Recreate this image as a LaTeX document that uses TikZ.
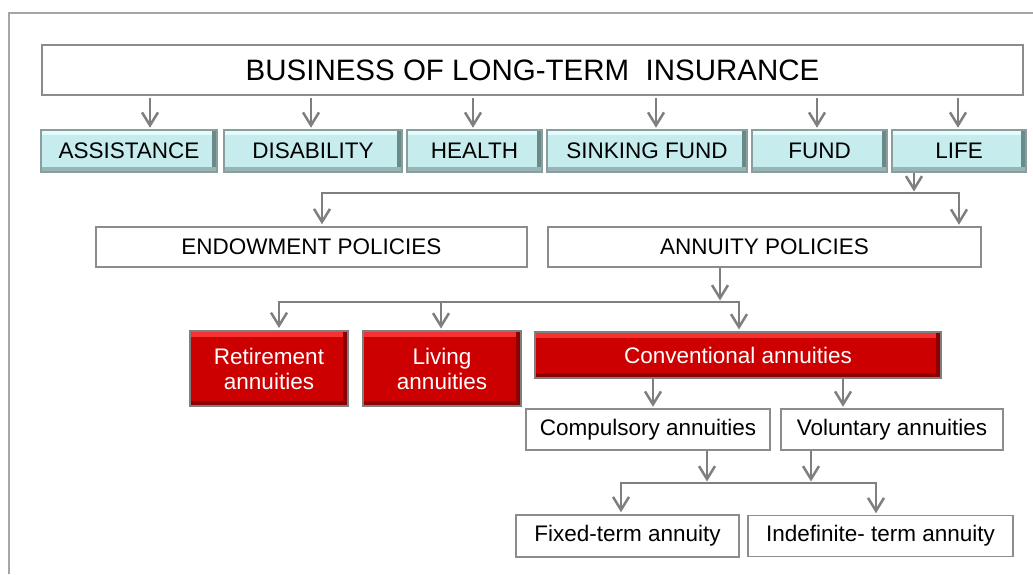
\documentclass[tikz,border=0pt]{standalone}
\usepackage{fontspec}
\setmainfont{Liberation Sans}
\usetikzlibrary{arrows.meta}
\definecolor{linegray}{HTML}{7F7F7F}
\definecolor{boxgray}{HTML}{8C8C8C}
\definecolor{framegray}{HTML}{A6A6A6}
\definecolor{tealfill}{HTML}{C6ECEE}
\definecolor{tealhi}{HTML}{E2FCFD}
\definecolor{tealdk}{HTML}{6A8A8A}
\definecolor{tealmid}{HTML}{98B4B5}
\definecolor{tealedge}{HTML}{8A9E9E}
\definecolor{redfill}{HTML}{CC0000}
\definecolor{redhi}{HTML}{F53232}
\definecolor{reddk}{HTML}{8E0000}
\definecolor{rededge}{HTML}{7F7F7F}
\newcommand{\lbl}{\fontsize{22.5}{25}\selectfont}
\tikzset{
  >={Straight Barb[length=13pt,width=16pt]},
  plainbox/.style={draw=boxgray, line width=1.5pt, fill=white, inner sep=0pt, font=\lbl},
  tealbox/.style={draw=tealedge, line width=1.5pt, fill=tealfill, inner sep=0pt, font=\lbl,
    path picture={
      \fill[tealhi] (path picture bounding box.north west) rectangle ([yshift=-5pt]path picture bounding box.north east);
      \fill[tealdk] ([xshift=-5pt]path picture bounding box.north east) rectangle (path picture bounding box.south east);
      \fill[tealmid] (path picture bounding box.south west) rectangle ([yshift=5pt]path picture bounding box.south east);}},
  redbox/.style={draw=rededge, line width=2pt, fill=redfill, text=white, align=center, inner sep=0pt, font=\lbl,
    path picture={
      \fill[redhi] (path picture bounding box.north west) rectangle ([yshift=-6pt]path picture bounding box.north east);
      \fill[reddk] ([xshift=-5pt]path picture bounding box.north east) rectangle (path picture bounding box.south east);
      \fill[reddk] (path picture bounding box.south west) rectangle ([yshift=5pt]path picture bounding box.south east);}},
  arr/.style={draw=linegray, line width=2.5pt, ->, shorten <=2pt, shorten >=1.5pt},
}
\begin{document}
\begin{tikzpicture}[x=1pt, y=-1pt]
\useasboundingbox (0,0) rectangle (1033,574);
\draw[framegray, line width=1.5pt] (9,574) -- (9,13) -- (1033,13);
% top level
\node[plainbox, minimum width=981pt, minimum height=50pt, font=\fontsize{29.5}{32}\selectfont] (biz) at (532.5,70) {BUSINESS OF LONG-TERM \ INSURANCE};
\foreach \nm/\cx/\bw/\txt in {assist/129/176/ASSISTANCE, disab/313/178/DISABILITY, health/474.5/135/HEALTH, sink/647/200/SINKING FUND, fund/819.5/135/FUND, life/959/134/LIFE}
  \node[tealbox, minimum width=\bw pt, minimum height=42pt] (\nm) at (\cx,151) {\txt};
\foreach \nm/\dx in {assist/21, disab/-2, health/-1.5, sink/9, fund/-2.5, life/-1}
  \draw[arr] ([xshift=\dx pt]\nm.north |- biz.south) -- ([xshift=\dx pt]\nm.north);
% policies
\node[plainbox, minimum width=431pt, minimum height=40pt] (endow) at (311.5,247) {ENDOWMENT POLICIES};
\node[plainbox, minimum width=433pt, minimum height=40pt] (annu) at (764.5,247) {ANNUITY POLICIES};
\coordinate (lifeJ) at (914,193); \coordinate (endJ) at (322,193); \coordinate (annJ) at (959,193);
\draw[arr, shorten <=0pt] (lifeJ |- life.south) -- (lifeJ);
\draw[arr, <->] (endJ |- endow.north) -- (endJ) -- (annJ) -- (annJ |- annu.north);
% annuity kinds
\node[redbox, minimum width=158pt, minimum height=75pt] (retire) at (269,368.5) {Retirement\\annuities};
\node[redbox, minimum width=158pt, minimum height=75pt] (living) at (442,368.5) {Living\\annuities};
\node[redbox, minimum width=406pt, minimum height=46pt] (conv) at (738,355) {Conventional annuities};
\coordinate (annJ2) at (720,302); \coordinate (retJ) at (279,302); \coordinate (livJ) at (441,302); \coordinate (convJ) at (739,302);
\draw[arr, shorten <=0pt] (annJ2 |- annu.south) -- (annJ2);
\draw[arr, <->] (retJ |- retire.north) -- (retJ) -- (convJ) -- (convJ |- conv.north);
\draw[arr, shorten <=0pt] (livJ) -- (livJ |- living.north);
% conventional
\node[plainbox, minimum width=244pt, minimum height=41pt] (compul) at (648,429.5) {Compulsory annuities};
\node[plainbox, minimum width=222pt, minimum height=41pt] (volun) at (892,429.5) {Voluntary annuities};
\draw[arr, shorten <=0pt] ([xshift=5pt]compul.north |- conv.south) -- ([xshift=5pt]compul.north);
\draw[arr, shorten <=0pt] ([xshift=-49pt]volun.north |- conv.south) -- ([xshift=-49pt]volun.north);
% term
\node[plainbox, minimum width=223pt, minimum height=42pt] (fixed) at (627.5,536) {Fixed-term annuity};
\node[plainbox, minimum width=265pt, minimum height=41pt] (indef) at (880.5,536) {Indefinite- term annuity};
\coordinate (compJ) at (707,483); \coordinate (volJ) at (811,483); \coordinate (fixJ) at (621,483); \coordinate (indJ) at (876,483);
\draw[arr, shorten <=0pt] (compJ |- compul.south) -- (compJ);
\draw[arr, shorten <=0pt] (volJ |- volun.south) -- (volJ);
\draw[arr, <->] (fixJ |- fixed.north) -- (fixJ) -- (indJ) -- (indJ |- indef.north);
\end{tikzpicture}
\end{document}
